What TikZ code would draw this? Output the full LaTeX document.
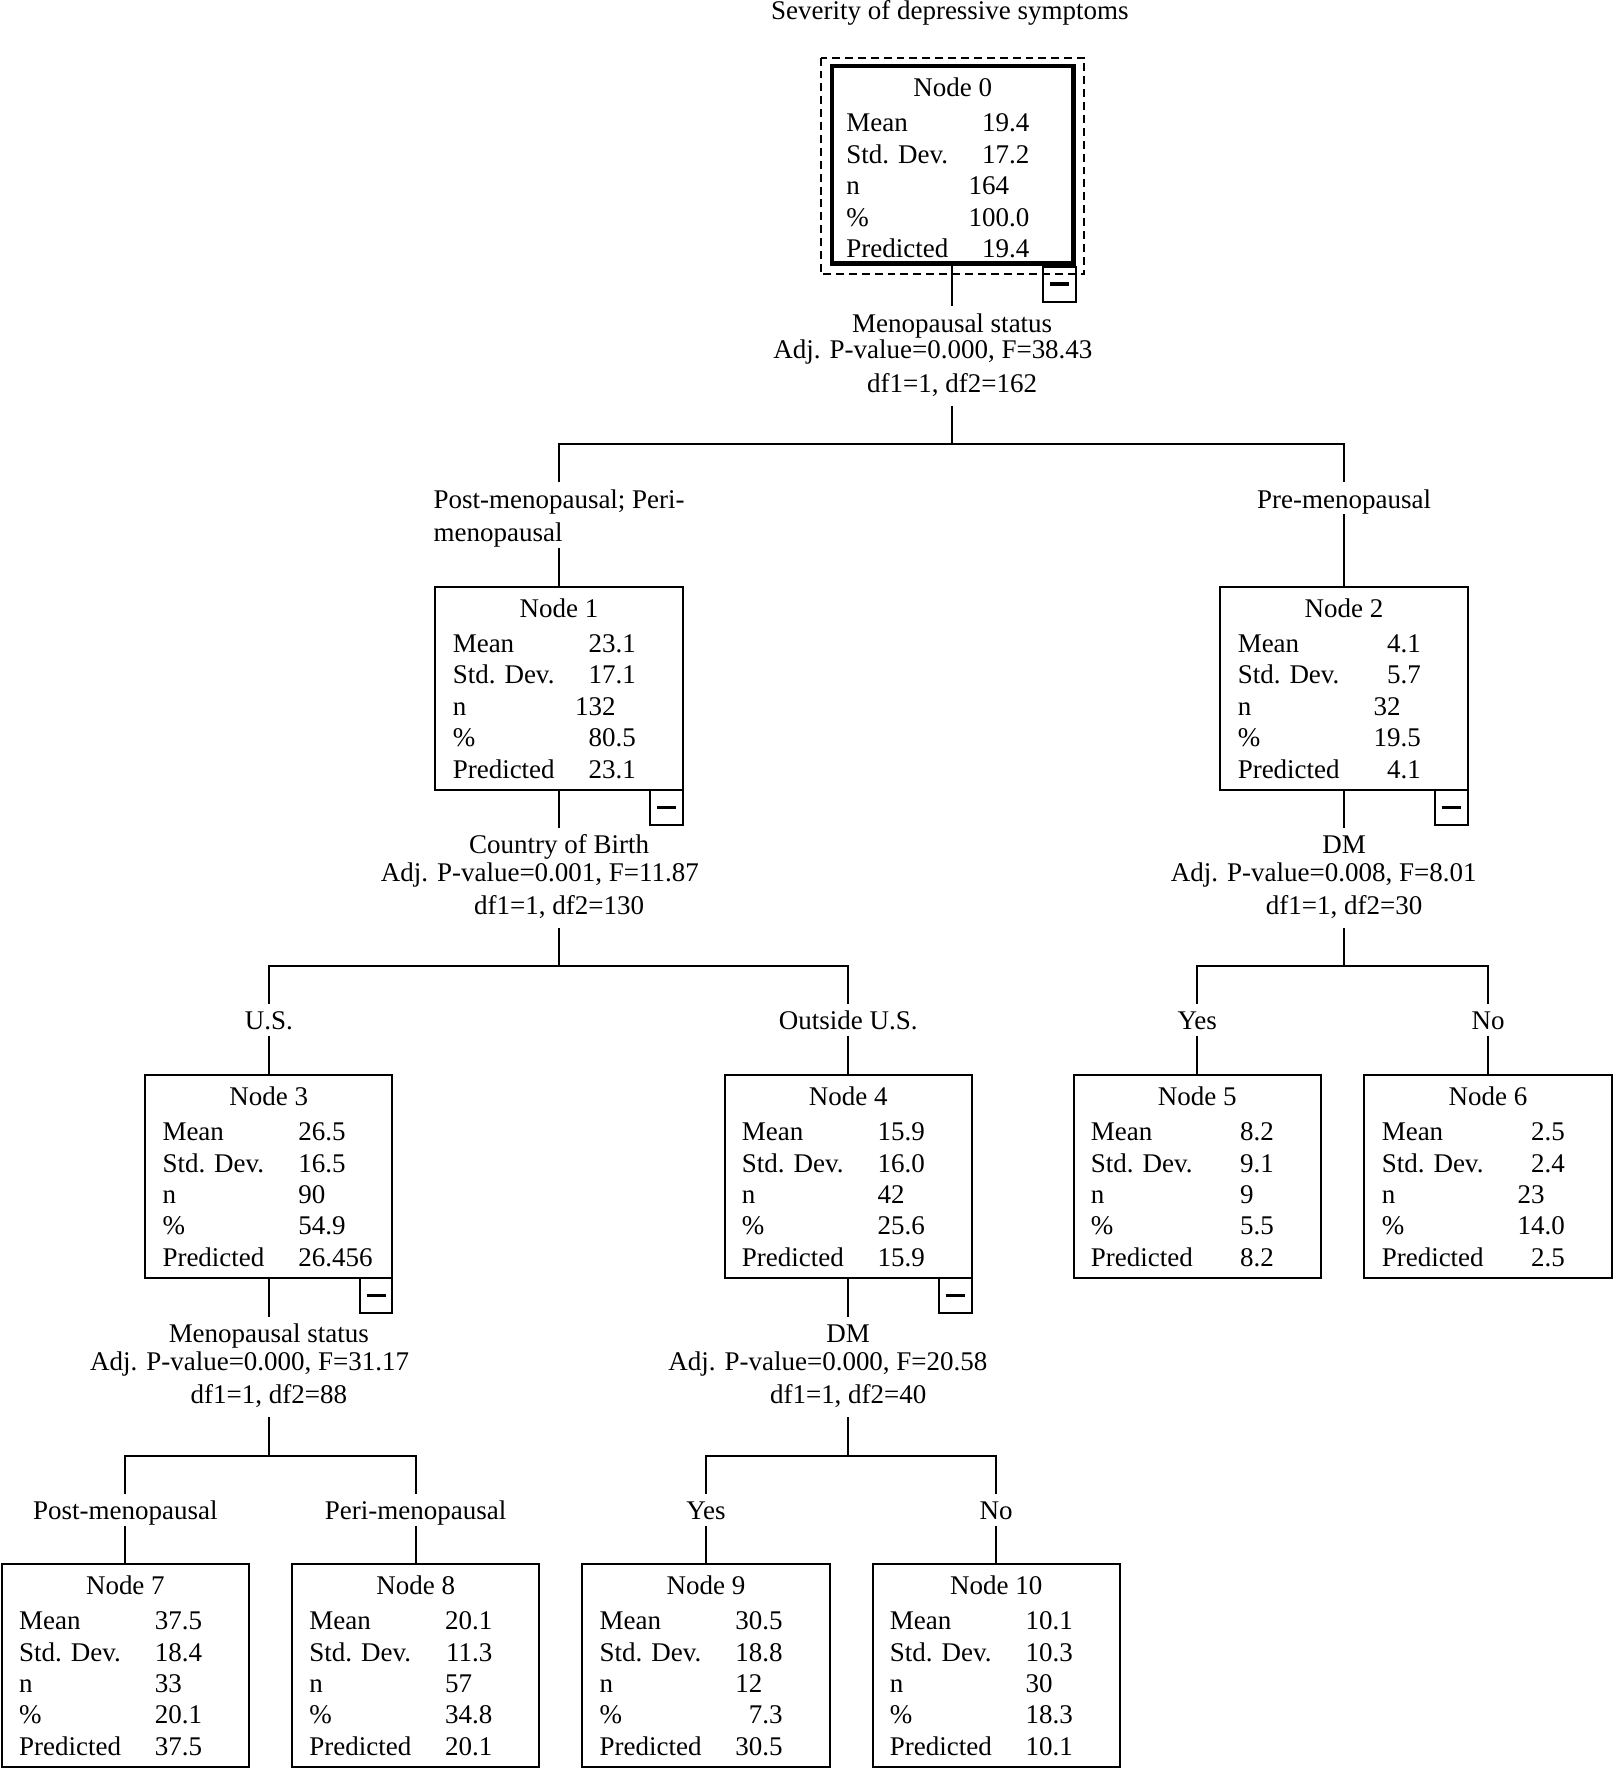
\documentclass[tikz,border=0pt]{standalone}
\usepackage{fontspec}
\setmainfont{Liberation Serif}
% value split at the decimal point, so the column lines up on it
\def\decsplit#1.#2.#3\relax{\llap{#1}\ifx\relax#2\relax\else\rlap{.#2}\fi}
\newcommand{\decnum}[1]{\expandafter\decsplit#1..\relax}
% box of one tree node: name, x centre, y top, number, mean, sd, n, %, predicted
\newcommand{\treebox}[9]{%
  \node[box,boxstyle/#1/.try] (#1) at (#2,#3) {};
  \node[anchor=base,inner sep=0pt] (#1-head) at (#2,{#3+27}) {Node #4};
  \foreach \lab/\val [count=\k] in {Mean/#5,Std. Dev./#6,n/#7,\%/#8,Predicted/#9}{
    \node[anchor=base west,inner sep=0pt] (#1-l\k) at ({#2-95},{#3+30.5+27.8*\k}) {\lab};
    \node[anchor=base,inner sep=0pt] (#1-v\k) at ({#2+50},{#3+30.5+27.8*\k}) {\decnum{\val}};
  }%
}

\begin{document}
\begin{tikzpicture}[x=0.02cm,y=-0.02cm,line width=1pt,
  every node/.style={font=\fontsize{13.6}{16}\selectfont},
  box/.style={draw,anchor=north,minimum width=4.38cm,minimum height=3.6cm,inner sep=0pt,outer sep=0pt},
  boxstyle/n0/.style={line width=2.4pt,minimum width=4.28cm,minimum height=3.5cm},
  minusbox/.style={draw,line width=1pt,anchor=north east,minimum width=0.58cm,minimum height=0.62cm,inner sep=0pt,outer sep=0pt},
  lbl/.style={anchor=base,inner sep=0pt,text height=12.5pt,text depth=2.6pt},
  dflbl/.style={lbl,text depth=6.3pt}]
\useasboundingbox (0,0) rectangle (1429,1568);
\node[anchor=base] (title) at (841,17.5) {Severity of depressive symptoms};

% boxes
\treebox{n0}{843.5}{58.5}{0}{19.4}{17.2}{164}{100.0}{19.4}
\draw[dash pattern=on 4pt off 2.5pt] ([shift={(-10,-7.5)}]n0.north west) rectangle ([shift={(9.5,9.5)}]n0.south east);
\treebox{n1}{495}{519.4}{1}{23.1}{17.1}{132}{80.5}{23.1}
\treebox{n2}{1190}{519.4}{2}{4.1}{5.7}{32}{19.5}{4.1}
\treebox{n3}{238}{951.7}{3}{26.5}{16.5}{90}{54.9}{26.456}
\treebox{n4}{751}{951.7}{4}{15.9}{16.0}{42}{25.6}{15.9}
\treebox{n5}{1060}{951.7}{5}{8.2}{9.1}{9}{5.5}{8.2}
\treebox{n6}{1317.5}{951.7}{6}{2.5}{2.4}{23}{14.0}{2.5}
\treebox{n7}{111}{1384.6}{7}{37.5}{18.4}{33}{20.1}{37.5}
\treebox{n8}{368}{1384.6}{8}{20.1}{11.3}{57}{34.8}{20.1}
\treebox{n9}{625}{1384.6}{9}{30.5}{18.8}{12}{7.3}{30.5}
\treebox{n10}{882}{1384.6}{10}{10.1}{10.3}{30}{18.3}{10.1}
\node[minusbox] (n0-c) at ([shift={(2,2.5)}]n0.south east) {\rule{9.5pt}{1.6pt}};
\foreach \b in {n1,n2,n3,n4}
  \node[minusbox] (\b-c) at (\b.south east) {\rule{9.5pt}{1.6pt}};

% split of node 0
\node[lbl] (v0) at (843,294) {Menopausal status};
\node[lbl] (p0) at (826,317.5) {Adj. P-value=0.000, F=38.43};
\node[dflbl] (d0) at (843,347.5) {df1=1, df2=162};
\coordinate (j0) at (843,393);
\node[lbl,anchor=base west] (b1a) at (383,450) {Post-menopausal; Peri-};
\node[lbl,anchor=base west] (b1b) at (383,479.5) {menopausal};
\node[lbl] (b2) at (1190,450) {Pre-menopausal};
\draw (n0.south -| v0) -- (v0);
\draw (d0) -- (j0);
\draw (n1.north |- b1a.north) |- (j0) -| (b2);
\draw (n1.north |- b1b.south) -- (n1);
\draw (b2) -- (n2);

% split of node 1
\node[lbl] (v1) at (495,755.5) {Country of Birth};
\node[lbl] (p1) at (478,780.5) {Adj. P-value=0.001, F=11.87};
\node[dflbl] (d1) at (495,810) {df1=1, df2=130};
\coordinate (j1) at (495,855.5);
\node[lbl] (b3) at (238,911.5) {U.S.};
\node[lbl] (b4) at (751,911.5) {Outside U.S.};
\draw (n1) -- (v1);
\draw (d1) -- (j1);
\draw (b3) |- (j1) -| (b4);
\draw (b3) -- (n3);
\draw (b4) -- (n4);

% split of node 2
\node[lbl] (v2) at (1190,755.5) {DM};
\node[lbl] (p2) at (1172,780.5) {Adj. P-value=0.008, F=8.01};
\node[dflbl] (d2) at (1190,810) {df1=1, df2=30};
\coordinate (j2) at (1190,855.5);
\node[lbl] (b5) at (1060,911.5) {Yes};
\node[lbl] (b6) at (1317.5,911.5) {No};
\draw (n2) -- (v2);
\draw (d2) -- (j2);
\draw (b5) |- (j2) -| (b6);
\draw (b5) -- (n5);
\draw (b6) -- (n6);

% split of node 3
\node[lbl] (v3) at (238,1188.5) {Menopausal status};
\node[lbl] (p3) at (221,1213.5) {Adj. P-value=0.000, F=31.17};
\node[dflbl] (d3) at (238,1243) {df1=1, df2=88};
\coordinate (j3) at (238,1289);
\node[lbl] (b7) at (111,1345.5) {Post-menopausal};
\node[lbl] (b8) at (368,1345.5) {Peri-menopausal};
\draw (n3) -- (v3);
\draw (d3) -- (j3);
\draw (b7) |- (j3) -| (b8);
\draw (b7) -- (n7);
\draw (b8) -- (n8);

% split of node 4
\node[lbl] (v4) at (751,1188.5) {DM};
\node[lbl] (p4) at (733,1213.5) {Adj. P-value=0.000, F=20.58};
\node[dflbl] (d4) at (751,1243) {df1=1, df2=40};
\coordinate (j4) at (751,1289);
\node[lbl] (b9) at (625,1345.5) {Yes};
\node[lbl] (b10) at (882,1345.5) {No};
\draw (n4) -- (v4);
\draw (d4) -- (j4);
\draw (b9) |- (j4) -| (b10);
\draw (b9) -- (n9);
\draw (b10) -- (n10);
\end{tikzpicture}
\end{document}
